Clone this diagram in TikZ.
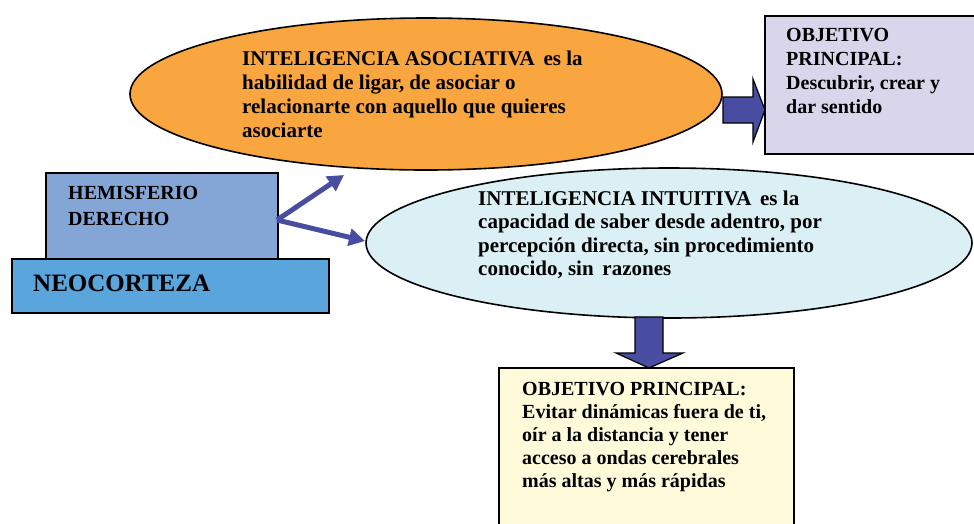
\documentclass[tikz,border=0pt]{standalone}
\usepackage{fontspec}
\setmainfont{Liberation Serif}
\usetikzlibrary{shapes.geometric,arrows.meta}
\definecolor{orangeF}{HTML}{F9A640}
\definecolor{cyanF}{HTML}{DAF0F5}
\definecolor{hemiF}{HTML}{84A6D7}
\definecolor{neoF}{HTML}{5AA5DC}
\definecolor{lavF}{HTML}{D9D6EC}
\definecolor{creamF}{HTML}{FEFADA}
\definecolor{arrowB}{HTML}{484DA2}
\begin{document}
\begin{tikzpicture}[x=1pt,y=-1pt,
  ell/.style={ellipse,draw=black,line width=1.6pt,inner sep=0pt},
  boxn/.style={rectangle,draw=black,line width=1.6pt,inner sep=0pt},
  txt/.style={anchor=base west,inner sep=0pt,align=left,font=\bfseries\fontsize{20}{24}\selectfont},
  blockarrow/.style={fill=arrowB,draw=black,line width=1.2pt,line join=miter},
  thinarrow/.style={draw=arrowB,line width=5pt,-{Triangle[length=16pt,width=17pt]}}]
\useasboundingbox (0,0) rectangle (974,523);
% ellipses
\node[ell,fill=orangeF,minimum width=592pt,minimum height=152pt] (asoc) at (426,94) {};
\node[ell,fill=cyanF,minimum width=606pt,minimum height=150pt] (intu) at (669,243) {};
% boxes
\node[boxn,fill=hemiF,minimum width=232pt,minimum height=86pt] (hemi) at (162,216) {};
\node[boxn,fill=neoF,minimum width=317pt,minimum height=54pt] (neo) at (170.5,286) {};
\node[boxn,fill=lavF,minimum width=222pt,minimum height=138pt] (obj1) at (876,85) {};
\node[boxn,fill=creamF,minimum width=295pt,minimum height=180pt] (obj2) at (646.5,458) {};
% texts (anchor = baseline of last line)
\node[txt,font=\bfseries\fontsize{21}{23.7}\selectfont] (tasoc) at (242,137) {INTELIGENCIA ASOCIATIVA\, es la\\habilidad de ligar, de asociar o\\relacionarte con aquello que quieres\\asociarte};
\node[txt,font=\bfseries\fontsize{21}{23.4}\selectfont] (tintu) at (478,275.5) {INTELIGENCIA INTUITIVA\, es la\\capacidad de saber desde adentro, por\\percepción directa, sin procedimiento\\conocido, sin\, razones};
\node[txt,font=\bfseries\fontsize{20}{26}\selectfont] (themi) at (68,225) {HEMISFERIO\\DERECHO};
\node[txt,font=\bfseries\fontsize{25}{30}\selectfont] (tneo) at (33,291) {NEOCORTEZA};
\node[txt,font=\bfseries\fontsize{20}{23.7}\selectfont] (tobj1) at (786,113) {OBJETIVO\\PRINCIPAL:\\Descubrir, crear y\\dar sentido};
\node[txt,font=\bfseries\fontsize{20}{23}\selectfont] (tobj2) at (522,487) {OBJETIVO PRINCIPAL:\\Evitar dinámicas fuera de ti,\\oír a la distancia y tener\\acceso a ondas cerebrales\\más altas y más rápidas};
% thin arrows
\coordinate (h0) at (277,220);
\coordinate (t1) at (344,175);
\coordinate (t2) at (365,241);
\draw[thinarrow] (h0) -- (t1);
\draw[thinarrow] (h0) -- (t2);
% block arrows
\draw[blockarrow] (723,97) -- (753,97) -- (753,79) -- (765,110) -- (753,142) -- (753,123) -- (723,123) -- cycle;
\draw[blockarrow] (635,317) -- (663,317) -- (663,353) -- (683,353) -- (649,368) -- (616,353) -- (635,353) -- cycle;
\end{tikzpicture}
\end{document}
